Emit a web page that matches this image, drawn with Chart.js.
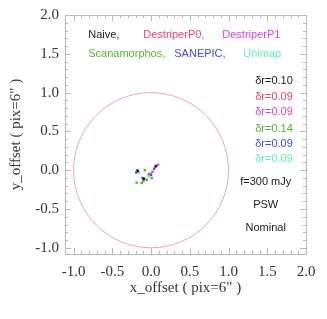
<!DOCTYPE html>
<html>
<head>
<meta charset="utf-8">
<script src="https://cdn.jsdelivr.net/npm/chart.js@4/dist/chart.umd.min.js"></script>
<style>
  html, body { margin: 0; padding: 0; background: #fff; }
  #wrap { width: 327px; height: 319px; }
</style>
</head>
<body>
<div id="wrap"><canvas id="graph"></canvas></div>
<script>
// tick labels
const tickValues = [-1.0, -0.5, 0.0, 0.5, 1.0, 1.5, 2.0];

// series (offsets in pixel units)
const naiveX = [-0.17, -0.09, 0.06];
const naiveY = [-0.01, -0.11, 0.05];
const destP0X = [-0.10, 0.07, -0.03];
const destP0Y = [-0.13, 0.06, -0.05];
const destP1X = [-0.18, 0.09, 0.02];
const destP1Y = [0.00, 0.07, -0.02];
const scanX = [-0.185, -0.12, -0.08, -0.055, 0.01, -0.10];
const scanY = [-0.16, -0.165, 0.00, -0.125, -0.10, -0.14];
const sanepicX = [-0.19, 0.04, -0.11, 0.00];
const sanepicY = [-0.03, 0.02, -0.10, -0.06];
const unimapX = [0.065, 0.00, -0.03, -0.15];
const unimapY = [0.04, -0.035, -0.08, -0.03];

const names = ["Naive,", "DestriperP0,", "DestriperP1", "Scanamorphos,", "SANEPIC,", "Unimap"];
const colors = ["#1a1a1a", "#f5416c", "#e23ee8", "#4cb82e", "#3a4cf2", "#5ef2b4"];
const deltaR = ["0.10", "0.09", "0.09", "0.14", "0.09", "0.09"];
const infoLines = ["f=300 mJy", "PSW", "Nominal"];
const circleRadius = 1.0;

function pts(xs, ys) {
  return xs.map((x, i) => ({ x: x, y: ys[i] }));
}
const seriesX = [naiveX, destP0X, destP1X, scanX, sanepicX, unimapX];
const seriesY = [naiveY, destP0Y, destP1Y, scanY, sanepicY, unimapY];

const datasets = names.map((n, i) => ({
  label: n,
  data: pts(seriesX[i], seriesY[i]),
  backgroundColor: colors[i],
  borderColor: colors[i],
  pointStyle: "rect",
  pointRadius: 1.7,
  borderWidth: 0,
  showLine: false,
}));

const frame = {
  id: "frame",
  beforeDatasetsDraw(chart) {
    const { ctx, chartArea: a, scales: { x, y } } = chart;
    ctx.save();
    // reference circle
    const cx = x.getPixelForValue(0), cy = y.getPixelForValue(0);
    ctx.strokeStyle = "#f3a2b2";
    ctx.lineWidth = 1;
    ctx.beginPath();
    ctx.ellipse(cx, cy, x.getPixelForValue(circleRadius) - cx, cy - y.getPixelForValue(circleRadius), 0, 0, Math.PI * 2);
    ctx.stroke();
    // box + inner ticks
    ctx.strokeStyle = "#b8b8b8";
    ctx.strokeRect(a.left + 0.5, a.top + 0.5, a.right - a.left, a.bottom - a.top);
    ctx.beginPath();
    for (let i = -10; i <= 20; i++) {
      const len = i % 5 === 0 ? 6 : 3;
      const px = Math.round(x.getPixelForValue(i / 10)) + 0.5;
      const py = Math.round(y.getPixelForValue(i / 10)) + 0.5;
      if (px > a.left && px < a.right) {
        ctx.moveTo(px, a.bottom); ctx.lineTo(px, a.bottom - len);
        ctx.moveTo(px, a.top); ctx.lineTo(px, a.top + len);
      }
      if (py > a.top && py < a.bottom) {
        ctx.moveTo(a.left, py); ctx.lineTo(a.left + len, py);
        ctx.moveTo(a.right, py); ctx.lineTo(a.right - len, py);
      }
    }
    ctx.stroke();
    ctx.restore();
  },
  afterDraw(chart) {
    const { ctx, scales: { x, y } } = chart;
    ctx.save();
    ctx.font = "11px 'Liberation Sans', Arial, sans-serif";
    ctx.textBaseline = "middle";
    // legend rows
    const legX = [-0.81, -0.10, 0.92, -0.81, 0.30, 1.19];
    const legY = [1.74, 1.74, 1.74, 1.50, 1.50, 1.50];
    ctx.textAlign = "left";
    names.forEach((n, i) => {
      ctx.fillStyle = colors[i];
      ctx.fillText(n, x.getPixelForValue(legX[i]), y.getPixelForValue(legY[i]));
    });
    // delta r column
    const drY = [1.15, 0.94, 0.745, 0.535, 0.34, 0.14];
    ctx.textAlign = "right";
    deltaR.forEach((d, i) => {
      ctx.fillStyle = colors[i];
      ctx.fillText("\u03B4r=" + d, x.getPixelForValue(1.83), y.getPixelForValue(drY[i]));
    });
    ctx.textAlign = "center";
    ctx.fillStyle = "#1a1a1a";
    const infoY = [-0.155, -0.45, -0.745];
    infoLines.forEach((t, i) => {
      ctx.fillText(t, x.getPixelForValue(1.48), y.getPixelForValue(infoY[i]));
    });
    ctx.restore();
  }
};

const serif = { family: "'Liberation Serif', 'Times New Roman', serif", size: 15 };

new Chart(document.getElementById("graph").getContext("2d"), {
  type: "scatter",
  data: { datasets: datasets },
  options: {
    responsive: true,
    maintainAspectRatio: false,
    animation: false,
    layout: { padding: { left: 0, top: 4, right: 21, bottom: 0 } },
    plugins: { legend: { display: false }, tooltip: { enabled: false } },
    scales: {
      x: {
        min: -1.11,
        max: 2.0,
        afterBuildTicks: (s) => { s.ticks = tickValues.map((v) => ({ value: v })); },
        afterFit: (s) => { s.height = 65; },
        grid: { display: false, drawTicks: false },
        border: { display: false },
        ticks: { color: "#333", font: serif, padding: 9, maxRotation: 0, callback: (v) => v.toFixed(1) },
        title: { display: true, text: "x_offset ( pix=6\" )", color: "#333", font: serif, padding: { top: 0, bottom: 22 } },
      },
      y: {
        min: -1.08,
        max: 2.0,
        afterBuildTicks: (s) => { s.ticks = tickValues.map((v) => ({ value: v })); },
        afterFit: (s) => { s.width = 65; },
        grid: { display: false, drawTicks: false },
        border: { display: false },
        ticks: { color: "#333", font: serif, padding: 6, callback: (v) => v.toFixed(1) },
        title: { display: true, text: "y_offset ( pix=6\" )", color: "#333", font: serif, padding: { top: 7, bottom: 0 } },
      },
    },
  },
  plugins: [frame],
});
</script>
</body>
</html>
